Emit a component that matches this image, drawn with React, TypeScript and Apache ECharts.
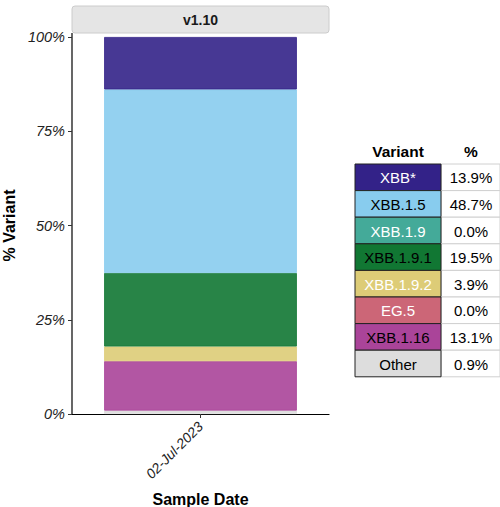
import React, { useEffect, useRef } from "react";
import * as echarts from "echarts";

const categories = ["02-Jul-2023"];
const variants = ["XBB*", "XBB.1.5", "XBB.1.9", "XBB.1.9.1", "XBB.1.9.2", "EG.5", "XBB.1.16", "Other"];
const shares = [13.9, 48.7, 0.0, 19.5, 3.9, 0.0, 13.1, 0.9];
const colors = ["#332288", "#88CCEE", "#44AA99", "#117733", "#DDCC77", "#CC6677", "#AA4499", "#DDDDDD"];
const labelColors = ["#ffffff", "#000000", "#ffffff", "#000000", "#ffffff", "#ffffff", "#000000", "#000000"];
const yTicks = [0, 25, 50, 75, 100];
const panelTitle = "v1.10";

const FONT = "Liberation Sans";

function rgba(hex: string, a: number) {
  const n = parseInt(hex.slice(1), 16);
  return `rgba(${(n >> 16) & 255},${(n >> 8) & 255},${n & 255},${a})`;
}

export default function App() {
  const ref = useRef<HTMLDivElement>(null);
  useEffect(() => {
    document.body.style.margin = "0";
    const chart = echarts.init(ref.current!, null, { renderer: "svg" });

    const series: any[] = [];
    for (let i = variants.length - 1; i >= 0; i--) {
      series.push({
        type: "bar",
        name: variants[i],
        stack: "total",
        barWidth: "75%",
        data: [shares[i] > 0 ? shares[i] : "-"],
        itemStyle: { color: rgba(colors[i], 0.9), borderColor: colors[i], borderWidth: 0.8 },
      });
    }

    const x0 = 355, w1 = 86, x1 = 441, w2 = 59, top = 164, rh = 26.6;
    const center = { align: "center", verticalAlign: "middle", textAlign: "center", textVerticalAlign: "middle" };
    const tableEls: any[] = [
      { type: "text", x: x0 + w1 / 2, y: 151, style: { text: "Variant", font: `bold 15.5px ${FONT}`, fill: "#000", ...center } },
      { type: "text", x: x1 + 30, y: 151, style: { text: "%", font: `bold 15.5px ${FONT}`, fill: "#000", ...center } },
    ];
    variants.forEach((v, i) => {
      const y = top + i * rh;
      tableEls.push({ type: "rect", shape: { x: x1, y, width: w2, height: rh }, style: { fill: "#ffffff", stroke: "#d0d0d0", lineWidth: 1 } });
      tableEls.push({ type: "rect", shape: { x: x0, y, width: w1, height: rh }, style: { fill: colors[i], stroke: "#222222", lineWidth: 1 } });
      tableEls.push({ type: "text", x: x0 + w1 / 2, y: y + rh / 2 + 0.5, style: { text: v, font: `15px ${FONT}`, fill: labelColors[i], ...center } });
      tableEls.push({ type: "text", x: x1 + 30, y: y + rh / 2 + 0.5, style: { text: shares[i].toFixed(1) + "%", font: `15px ${FONT}`, fill: "#000", ...center } });
    });

    chart.setOption({
      animation: false,
      grid: { left: 72, top: 37, width: 257, height: 377, containLabel: false, outerBoundsMode: "none" },
      xAxis: {
        type: "category",
        data: categories,
        name: "Sample Date",
        nameLocation: "middle",
        nameGap: 77,
        nameTextStyle: { fontFamily: FONT, fontWeight: "bold", fontSize: 16, color: "#000" },
        axisLine: { show: true, lineStyle: { color: "#000", width: 1.2 } },
        axisTick: { show: true, alignWithLabel: true, length: 4, lineStyle: { color: "#333" } },
        axisLabel: { rotate: 45, fontStyle: "italic", fontFamily: FONT, fontSize: 14, color: "#222", margin: 10 },
      },
      yAxis: {
        type: "value",
        min: 0,
        max: 100,
        interval: 25,
        name: "% Variant",
        nameLocation: "middle",
        nameGap: 44,
        nameTextStyle: { fontFamily: FONT, fontWeight: "bold", fontSize: 16, color: "#000" },
        axisLine: { show: false },
        axisTick: { show: true, length: 4, lineStyle: { color: "#333" } },
        axisLabel: {
          fontStyle: "italic", fontFamily: FONT, fontSize: 14.5, color: "#222", margin: 7,
          formatter: (v: number) => (yTicks.includes(v) ? v + "%" : ""),
        },
        splitLine: { show: false },
      },
      series,
      graphic: [
        { type: "rect", shape: { x: 72, y: 6, width: 257, height: 27, r: 3 }, style: { fill: "#e5e5e5", stroke: "#cccccc", lineWidth: 1 } },
        { type: "text", x: 200.5, y: 19.5, style: { text: panelTitle, font: `bold 14px ${FONT}`, fill: "#1a1a1a", ...center } },
        { type: "line", shape: { x1: 72, y1: 33, x2: 72, y2: 414 }, style: { stroke: "#000", lineWidth: 1.2 } },
        ...tableEls,
      ],
    });
    return () => chart.dispose();
  }, []);
  return <div ref={ref} style={{ width: 500, height: 507 }} />;
}
